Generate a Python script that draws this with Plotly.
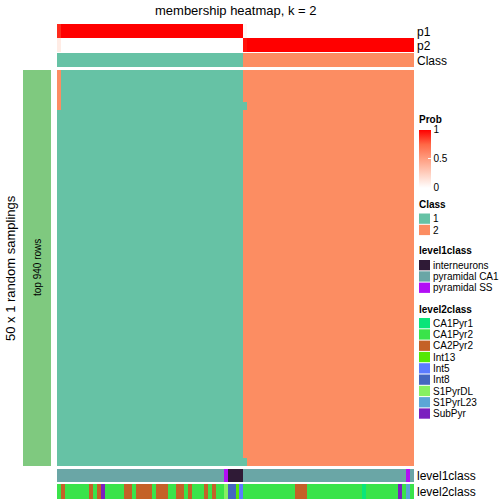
import plotly.graph_objects as go

# ---------------- data ----------------
n_samplings = 50
# consensus class of each of the 90 samples (columns, ordered as in the picture)
class_runs = [(1, 47), (2, 43)]
# membership probabilities for the top annotation
p1 = [0.90] + [1.0] * 46 + [0.04] + [0.0] * 42
p2 = [0.10] + [0.0] * 46 + [0.96] + [1.0] * 42
# cells of the sampling matrix that differ from the consensus class: (row, column, class)
membership_exceptions = [(0, 0, 2), (1, 0, 2), (2, 0, 2), (3, 0, 2), (4, 0, 2),
                         (4, 47, 1), (49, 47, 1)]
# level2class of each column, as runs
level2_runs = [
    ("CA1Pyr2", 1), ("CA2Pyr2", 1), ("CA1Pyr2", 6), ("CA2Pyr2", 1), ("CA1Pyr2", 1),
    ("CA2Pyr2", 1), ("SubPyr", 1), ("CA1Pyr2", 5), ("CA2Pyr2", 2), ("CA1Pyr2", 1),
    ("CA2Pyr2", 4), ("CA1Pyr2", 1), ("CA2Pyr2", 3), ("CA1Pyr2", 2), ("CA2Pyr2", 2),
    ("CA1Pyr2", 1), ("CA2Pyr2", 1), ("CA1Pyr2", 3), ("CA2Pyr2", 1), ("CA1Pyr2", 1),
    ("CA2Pyr2", 1), ("CA1Pyr2", 2), ("S1PyrDL", 1), ("Int8", 2), ("Int13", 1),
    ("Int5", 1), ("CA1Pyr2", 13), ("CA2Pyr2", 3), ("CA1Pyr2", 14), ("CA1Pyr1", 1),
    ("CA1Pyr2", 8), ("SubPyr", 1), ("CA1Pyr2", 1), ("S1PyrL23", 1), ("CA1Pyr2", 1),
]
level1_of_level2 = {
    "CA1Pyr1": "pyramidal CA1", "CA1Pyr2": "pyramidal CA1", "CA2Pyr2": "pyramidal CA1",
    "SubPyr": "pyramidal CA1", "Int13": "interneurons", "Int5": "interneurons",
    "Int8": "interneurons", "S1PyrDL": "pyramidal SS", "S1PyrL23": "pyramidal SS",
}
class_names = ["1", "2"]
level1_names = ["interneurons", "pyramidal CA1", "pyramidal SS"]
level2_names = ["CA1Pyr1", "CA1Pyr2", "CA2Pyr2", "Int13", "Int5", "Int8",
                "S1PyrDL", "S1PyrL23", "SubPyr"]
row_block_label = "top 940 rows"

# ---------------- styles ----------------
class_colors = ["#66C2A5", "#FC8D62"]
level1_colors = ["#2F1A36", "#6AA6A6", "#B20FF5"]
level2_colors = ["#0BE57A", "#3AE34A", "#C46127", "#55E804", "#5B7BFF", "#4466BF",
                 "#86F061", "#5BA6D6", "#7B1FBF"]
prob_scale = [[0, "#FFFFFF"], [0.25, "#FFCFBF"], [0.5, "#FF9E81"],
              [0.75, "#FF6846"], [1, "#FF0000"]]
block_color = "#7FC97F"
FONT = "Liberation Sans, Arial, Helvetica, sans-serif"
W = H = 504


def expand(runs):
    out = []
    for v, n in runs:
        out += [v] * n
    return out


def discrete_scale(colors):
    n = len(colors)
    sc = []
    for i, c in enumerate(colors):
        sc.append([i / n, c])
        sc.append([(i + 1) / n, c])
    return sc


def py(px):  # pixel row -> paper fraction
    return 1 - px / H


def px_(px):
    return px / W


classes = expand(class_runs)
n_cols = len(classes)
cols = list(range(n_cols))
level2 = expand(level2_runs)
level1 = [level1_of_level2[v] for v in level2]

member = [[classes[c] for c in cols] for _ in range(n_samplings)]
for r, c, k in membership_exceptions:
    member[r][c] = k

fig = go.Figure()

# main membership matrix
fig.add_trace(go.Heatmap(
    z=[[v - 1 for v in row] for row in member], x=cols, y=list(range(n_samplings)),
    colorscale=discrete_scale(class_colors), zmin=-0.5, zmax=1.5,
    showscale=False, hoverinfo="skip", xaxis="x", yaxis="y"))

# p1 / p2 rows
fig.add_trace(go.Heatmap(
    z=[p1, p2], x=cols, y=[0, 1], colorscale=prob_scale, zmin=0, zmax=1,
    hoverinfo="skip", xaxis="x", yaxis="y2",
    colorbar=dict(x=px_(419), xanchor="left", xpad=0, ypad=0,
                  y=py(158.5), yanchor="middle", len=58, lenmode="pixels",
                  thickness=12, thicknessmode="pixels", outlinewidth=0,
                  tickvals=[0, 0.5, 1], ticktext=["0", "0.5", "1"],
                  ticks="inside", ticklen=3, tickcolor="white",
                  tickfont=dict(family=FONT, size=10, color="black"))))

# class row
fig.add_trace(go.Heatmap(
    z=[[v - 1 for v in classes]], x=cols, y=[0],
    colorscale=discrete_scale(class_colors), zmin=-0.5, zmax=1.5,
    showscale=False, hoverinfo="skip", xaxis="x", yaxis="y3"))

# level1class row
fig.add_trace(go.Heatmap(
    z=[[level1_names.index(v) for v in level1]], x=cols, y=[0],
    colorscale=discrete_scale(level1_colors), zmin=-0.5, zmax=len(level1_names) - 0.5,
    showscale=False, hoverinfo="skip", xaxis="x", yaxis="y4"))

# level2class row
fig.add_trace(go.Heatmap(
    z=[[level2_names.index(v) for v in level2]], x=cols, y=[0],
    colorscale=discrete_scale(level2_colors), zmin=-0.5, zmax=len(level2_names) - 0.5,
    showscale=False, hoverinfo="skip", xaxis="x", yaxis="y5"))

# left row-block bar
fig.add_trace(go.Heatmap(
    z=[[0]], x=[0], y=[0], colorscale=[[0, block_color], [1, block_color]],
    showscale=False, hoverinfo="skip", xaxis="x2", yaxis="y6"))

hidden = dict(visible=False, showgrid=False, zeroline=False, fixedrange=True)
main_dom = [py(466), py(70)]
fig.update_layout(
    width=W, height=H, margin=dict(l=0, r=0, t=0, b=0),
    paper_bgcolor="white", plot_bgcolor="white",
    font=dict(family=FONT, color="black"),
    xaxis=dict(domain=[px_(57), px_(414)], range=[-0.5, n_cols - 0.5], anchor="y", **hidden),
    yaxis=dict(domain=main_dom, range=[n_samplings - 0.5, -0.5], anchor="x", **hidden),
    yaxis2=dict(domain=[py(52), py(24)], range=[1.5, -0.5], anchor="x", **hidden),
    yaxis3=dict(domain=[py(67), py(53)], range=[0.5, -0.5], anchor="x", **hidden),
    yaxis4=dict(domain=[py(482), py(469)], range=[0.5, -0.5], anchor="x", **hidden),
    yaxis5=dict(domain=[py(499), py(484)], range=[0.5, -0.5], anchor="x", **hidden),
    xaxis2=dict(domain=[px_(23), px_(51)], range=[-0.5, 0.5], anchor="y6", **hidden),
    yaxis6=dict(domain=main_dom, range=[-0.5, 0.5], anchor="x2", **hidden),
)

ann = []


def text(x, y, s, size=12, anchor="left", angle=0):
    ann.append(dict(x=px_(x), y=py(y), xref="paper", yref="paper", text=s,
                    showarrow=False, xanchor=anchor, yanchor="middle",
                    textangle=angle, font=dict(family=FONT, size=size, color="black")))


text(236, 10, "membership heatmap, k = 2", 13, "center")
text(415, 31.5, "p1")
text(415, 45.5, "p2")
text(415, 60.5, "Class")
text(415, 476, "level1class")
text(415, 491.5, "level2class")
text(10, 268, "50 x 1 random samplings", 13, "center", -90)
text(37, 268, row_block_label, 10, "center", -90)

shapes = []


def legend_group(title, title_y, names, colors, top):
    text(417, title_y, "<b>%s</b>" % title, 10)
    step = 11.3
    for i, (nm, c) in enumerate(zip(names, colors)):
        y0 = top + i * step
        shapes.append(dict(type="rect", xref="paper", yref="paper",
                           x0=px_(419), x1=px_(430), y0=py(y0 + 10.3), y1=py(y0),
                           fillcolor=c, line=dict(width=0)))
        text(431, y0 + 5.3, nm, 10)


text(417, 119, "<b>Prob</b>", 10)
legend_group("Class", 204, class_names, class_colors, 213.5)
legend_group("level1class", 250.5, level1_names, level1_colors, 260)
legend_group("level2class", 309, level2_names, level2_colors, 318)

fig.update_layout(annotations=ann, shapes=shapes)
fig.write_html("out.html", config={"displayModeBar": False},
               post_script="document.body.style.margin='0';")
